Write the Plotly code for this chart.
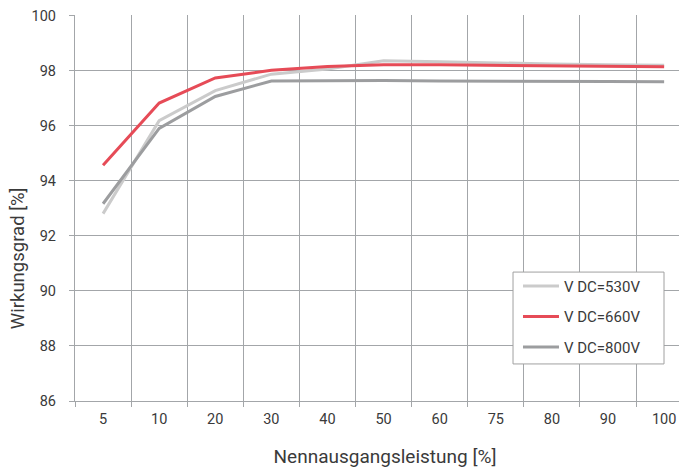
import plotly.graph_objects as go

categories = ["5", "10", "20", "30", "40", "50", "60", "75", "80", "90", "100"]
v530 = [92.81, 96.19, 97.28, 97.88, 98.07, 98.37, 98.33, 98.28, 98.25, 98.22, 98.20]
v660 = [94.57, 96.83, 97.74, 98.02, 98.16, 98.22, 98.22, 98.20, 98.17, 98.16, 98.15]
v800 = [93.17, 95.91, 97.07, 97.63, 97.64, 97.65, 97.63, 97.63, 97.62, 97.61, 97.60]
y_ticks = [86, 88, 90, 92, 94, 96, 98, 100]

series = [
    ("V DC=530V", v530, "#cbcbcb"),
    ("V DC=660V", v660, "#e64b57"),
    ("V DC=800V", v800, "#9c9d9f"),
]

font_family = "Roboto, DejaVu Sans, sans-serif"
text_color = "#3a3a3a"
grid_color = "#a3a6a9"

fig = go.Figure()
for i, (name, vals, col) in enumerate(series):
    fig.add_trace(go.Scatter(
        x=categories, y=vals, mode="lines", name=name,
        line=dict(color=col, width=3), legendgroup=f"g{i}",
    ))

fig.update_layout(
    width=687, height=469,
    margin=dict(l=67, r=0, t=7, b=76),
    paper_bgcolor="white", plot_bgcolor="white",
    font=dict(family=font_family, color=text_color, size=14.5),
    showlegend=True,
    legend=dict(
        x=0.7145, y=0.34, xanchor="left", yanchor="top",
        borderwidth=0, bgcolor="rgba(0,0,0,0)",
        font=dict(size=15, color=text_color),
        tracegroupgap=8,
        itemwidth=36,
    ),
    shapes=[dict(
        type="rect", xref="paper", yref="paper",
        x0=0.7065, x1=0.95, y0=0.096, y1=0.334,
        line=dict(color="#a0a0a0", width=1), fillcolor="white", layer="above",
    )],
    annotations=[dict(
        text="Wirkungsgrad [%]", textangle=-90,
        xref="paper", yref="paper", x=-0.092, y=0.37,
        xanchor="center", yanchor="middle", showarrow=False,
        font=dict(size=18.5, color=text_color),
    )],
)
fig.update_xaxes(
    type="category", categoryorder="array", categoryarray=categories,
    range=[-0.5, 10.55], automargin=False,
    tickson="boundaries", ticks="outside", ticklen=5, tickcolor=grid_color,
    showgrid=True, gridcolor=grid_color, gridwidth=1.2,
    showline=True, linecolor=grid_color, linewidth=1.2,
    tickfont=dict(size=14.5, color=text_color),
    ticklabelstandoff=4, ticklabeloverflow="allow",
    title=dict(text="Nennausgangsleistung [%]", font=dict(size=19, color=text_color), standoff=23),
    zeroline=False,
)
fig.update_yaxes(
    range=[86, 100.03], tickvals=y_ticks, automargin=False,
    ticks="outside", ticklen=5, tickcolor=grid_color,
    showgrid=True, gridcolor=grid_color, gridwidth=1.2,
    showline=True, linecolor=grid_color, linewidth=1.2,
    tickfont=dict(size=14.5, color=text_color),
    ticklabelstandoff=10, ticklabeloverflow="allow",
    zeroline=False,
)

fig.write_html("out.html")
